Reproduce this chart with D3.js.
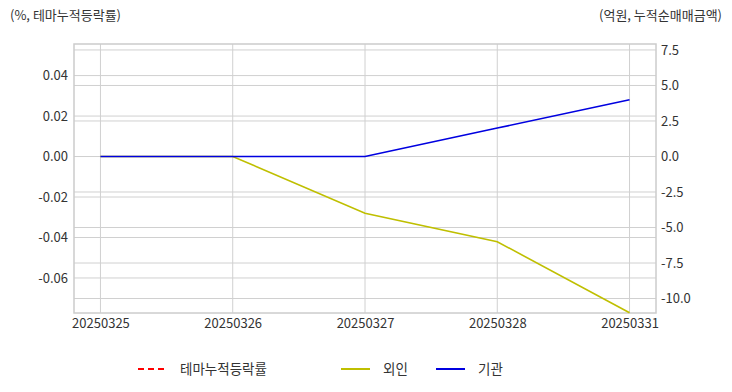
<!DOCTYPE html>
<html>
<head>
<meta charset="utf-8">
<script src="https://cdn.jsdelivr.net/npm/d3@7"></script>
<style>
  body { margin: 0; background: #fff; }
  text { font-family: "Noto Sans CJK KR", "Noto Sans", sans-serif; fill: #333; }
</style>
</head>
<body>
<svg class="plot" width="732" height="392"></svg>
<script>
// data
var dates = ["20250325", "20250326", "20250327", "20250328", "20250331"];
var themeValues = [null, null, null, null, null];   // 테마누적등락률 (no data drawn)
var foreignValues = [0, 0, -4.0, -6.0, -11.0];      // 외인
var instValues = [0, 0, 0, 2.0, 4.0];               // 기관
var leftTicks = [-0.06, -0.04, -0.02, 0.00, 0.02, 0.04];
var rightTicks = [-10.0, -7.5, -5.0, -2.5, 0.0, 2.5, 5.0, 7.5];

var svg = d3.select(".plot"),
    margin = {top: 44, right: 76, bottom: 79, left: 74},
    width = +svg.attr("width") - margin.left - margin.right,
    height = +svg.attr("height") - margin.top - margin.bottom;

var g = svg.append("g")
    .attr("transform", "translate(" + margin.left + "," + margin.top + ")");

// scales
var x = d3.scaleLinear().domain([-0.2, dates.length - 0.8]).range([0, width]);
var yL = d3.scaleLinear().domain([-0.0773, 0.0556]).range([height, 0]);
var yR = d3.scaleLinear().domain([-11.02, 7.92]).range([height, 0]);

// grid
var grid = "#d0d0d0";
g.selectAll(".gx").data(dates).enter().append("line")
    .attr("x1", function(d, i) { return x(i); })
    .attr("x2", function(d, i) { return x(i); })
    .attr("y1", 0).attr("y2", height)
    .style("stroke", grid);
g.selectAll(".gl").data(leftTicks).enter().append("line")
    .attr("x1", 0).attr("x2", width)
    .attr("y1", function(d) { return yL(d); })
    .attr("y2", function(d) { return yL(d); })
    .style("stroke", grid);
g.selectAll(".gr").data(rightTicks).enter().append("line")
    .attr("x1", 0).attr("x2", width)
    .attr("y1", function(d) { return yR(d); })
    .attr("y2", function(d) { return yR(d); })
    .style("stroke", grid);

g.append("rect")
    .attr("width", width).attr("height", height)
    .style("fill", "none").style("stroke", "#cccccc").style("stroke-width", 1.5);

// axes (hyphen minus like the original)
function fmt(spec) {
  var f = d3.format(spec);
  return function(d) { return f(d).replace("\u2212", "-"); };
}
var axL = g.append("g")
    .call(d3.axisLeft(yL).tickValues(leftTicks).tickFormat(fmt(".2f")).tickSize(0).tickPadding(6));
var axR = g.append("g")
    .attr("transform", "translate(" + width + ",0)")
    .call(d3.axisRight(yR).tickValues(rightTicks).tickFormat(fmt(".1f")).tickSize(0).tickPadding(5));
var axB = g.append("g")
    .attr("transform", "translate(0," + height + ")")
    .call(d3.axisBottom(x).tickValues(d3.range(dates.length)).tickFormat(function(i) { return dates[i]; }).tickSize(0).tickPadding(6));
[axL, axR, axB].forEach(function(a) {
  a.select(".domain").remove();
  a.selectAll("text").style("font-size", "13px").style("fill", "#333");
});

// lines
function lineFor(scale) {
  return d3.line()
      .defined(function(d) { return d != null; })
      .x(function(d, i) { return x(i); })
      .y(function(d) { return scale(d); });
}
g.append("path").datum(themeValues)
    .attr("d", lineFor(yL))
    .style("fill", "none").style("stroke", "#ff0000").style("stroke-width", 1.6)
    .style("stroke-dasharray", "6,4");
g.append("path").datum(foreignValues)
    .attr("d", lineFor(yR))
    .style("fill", "none").style("stroke", "#bfbf00").style("stroke-width", 1.6);
g.append("path").datum(instValues)
    .attr("d", lineFor(yR))
    .style("fill", "none").style("stroke", "#0000e0").style("stroke-width", 1.6);

// titles
svg.append("text").attr("x", 10).attr("y", 20)
    .style("font-size", "13px").text("(%, 테마누적등락률)");
svg.append("text").attr("x", 722).attr("y", 20)
    .style("font-size", "13px").style("text-anchor", "end").text("(억원, 누적순매매금액)");

// legend
var legend = [
  {name: "테마누적등락률", color: "#ff0000", dash: "6,4", x: 138},
  {name: "외인", color: "#bfbf00", dash: null, x: 341},
  {name: "기관", color: "#0000e0", dash: null, x: 436}
];
var lg = svg.selectAll(".lg").data(legend).enter().append("g")
    .attr("transform", function(d) { return "translate(" + d.x + ",369)"; });
lg.append("line")
    .attr("x1", 0).attr("x2", 29).attr("y1", 0).attr("y2", 0)
    .style("stroke", function(d) { return d.color; })
    .style("stroke-width", 2)
    .style("stroke-dasharray", function(d) { return d.dash; });
lg.append("text")
    .attr("x", 42).attr("y", 5)
    .style("font-size", "13.5px")
    .text(function(d) { return d.name; });
</script>
</body>
</html>
